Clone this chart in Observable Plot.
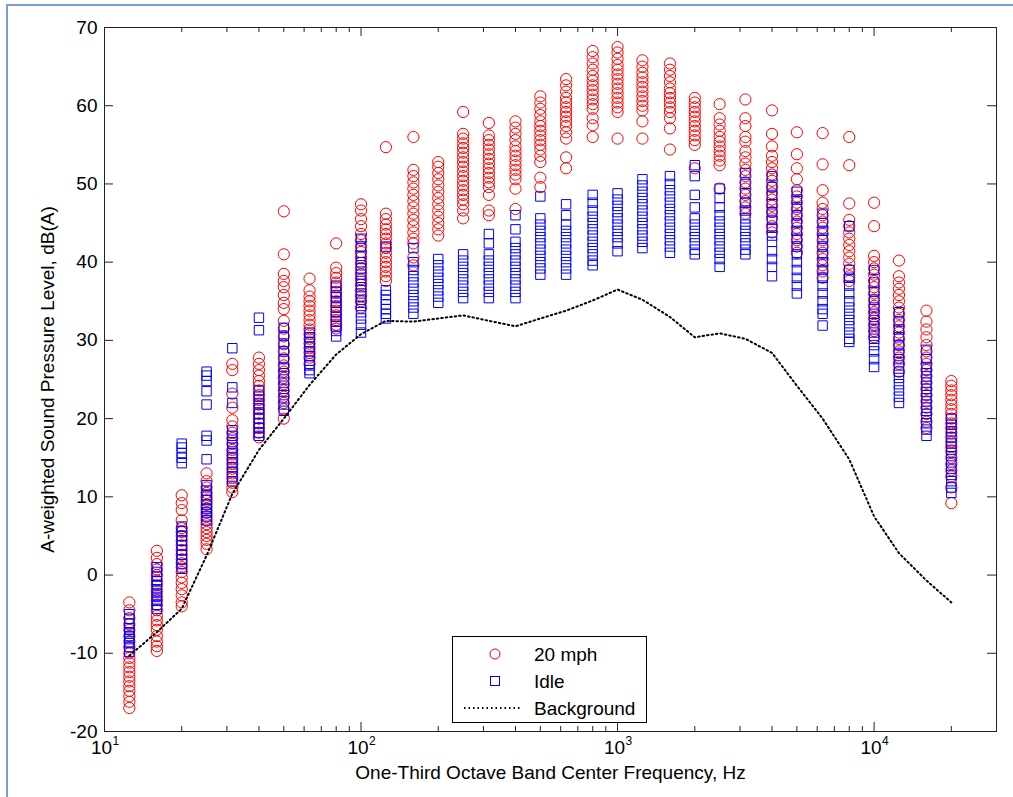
<!DOCTYPE html>
<html><head><meta charset="utf-8">
<script src="https://cdn.jsdelivr.net/npm/d3@7"></script>
<script src="https://cdn.jsdelivr.net/npm/@observablehq/plot@0.6"></script>
<style>
body{margin:0;background:#fff;font-family:"Liberation Sans",Arial,sans-serif;}
#wrap{position:relative;width:1013px;height:797px;overflow:hidden;background:#fff;}
#frame{position:absolute;left:6px;top:4px;width:1200px;height:1000px;border-left:2px solid #7a9fd4;border-top:2px solid #7a9fd4;}
#chart{position:absolute;left:0;top:0;}
#legend{position:absolute;left:452px;top:636px;width:193px;height:85px;border:1px solid #000;background:#fff;}
#legend svg{display:block;}
</style></head>
<body><div id="wrap"><div id="frame"></div><div id="chart"></div>
<div id="legend"><svg width="193" height="85" font-family="Liberation Sans, Arial, sans-serif" font-size="19">
<circle cx="42" cy="17" r="5" fill="none" stroke="#ff0000" stroke-width="1"/>
<text x="81" y="17" dominant-baseline="central">20 mph</text>
<rect x="37.5" y="39.5" width="9" height="9" fill="none" stroke="#0000ff" stroke-width="1"/>
<text x="81" y="44" dominant-baseline="central">Idle</text>
<line x1="11" x2="69" y1="71" y2="71" stroke="#000" stroke-width="2" stroke-dasharray="1.5,3"/>
<text x="81" y="71" dominant-baseline="central">Background</text>
</svg></div>
</div>
<script>
const bands = [12.5,16,20,25,31.5,40,50,63,80,100,125,160,200,250,315,400,500,630,800,1000,1250,1600,2000,2500,3150,4000,5000,6300,8000,10000,12500,16000,20000];

const mph20 = [
  [-3.5,-4.5,-5.5,-6.3,-7,-7.8,-8.5,-9.2,-10,-10.6,-11.2,-11.8,-12.4,-13,-13.6,-14.2,-14.8,-15.5,-16.2,-17],
  [3.1,2.2,1.4,0.7,0,-0.7,-1.3,-2,-2.6,-3.2,-3.8,-4.5,-5.2,-5.8,-6.4,-7,-7.8,-8.5,-9.1,-9.7],
  [10.2,9.2,8.3,7.0,6.0,5.5,5.0,4.4,3.8,3.2,2.6,2.0,1.5,1.0,0.4,-0.3,-1.0,-1.8,-2.6,-3.5,-4.0],
  [13.0,12.0,11.2,10.5,10,9.5,9.0,8.5,8.0,7.5,7.0,6.5,6.0,5.5,5.0,4.5,4.0,3.3],
  [27.0,26.2,23.2,21.4,19.8,19.0,18.2,17.5,16.8,16.0,15.4,14.8,14.2,13.6,13.0,12.4,11.8,11.2,10.6],
  [27.8,27.0,26.2,25.5,24.8,24.2,23.6,23.0,22.4,21.8,21.2,20.6,20.0,19.4,18.8,18.2,17.6],
  [46.5,41.0,38.5,37.6,36.8,35.8,34.8,34.0,32.5,31.5,30.5,29.5,28.6,27.7,26.8,26.0,25.2,24.4,23.6,22.8,22.0,21.2,20.0],
  [37.9,36.4,35.6,35.0,34.4,33.8,33.2,32.6,32.0,31.4,30.8,30.2,29.6,29.0,28.4,27.8,27.0],
  [42.4,39.3,38.6,38.0,37.4,36.8,36.2,35.6,35.0,34.4,33.8,33.2,32.6,32.0,31.5],
  [47.4,46.6,45.5,44.6,43.6,42.8,42.0,41.3,40.6,39.9,39.2,38.5,37.8,37.1,36.4,35.7,35.0,34.2],
  [54.7,46.2,45.5,44.8,44.2,43.6,43.0,42.4,41.8,41.2,40.6,40.0,39.4,38.8,38.2,37.6],
  [56.0,51.8,51.0,50.2,49.4,48.6,47.8,47.0,46.2,45.4,44.6,43.8,43.0,42.4,40.6,39.6],
  [52.8,52.2,51.4,50.6,49.8,49.0,48.2,47.4,46.6,45.8,45.0,44.2,43.4],
  [59.2,56.4,55.8,55.2,54.6,54.0,53.4,52.8,52.2,51.6,51.0,50.4,49.8,49.2,48.6,48.0,47.4,46.6,45.6],
  [57.8,56.2,55.6,55.0,54.4,53.8,53.2,52.6,52.0,51.4,50.8,50.2,49.6,48.6,46.6,46.0],
  [58.0,57.2,56.4,55.6,54.8,54.2,53.6,53.0,52.4,51.8,51.2,50.6,49.4,46.8],
  [61.2,60.4,59.6,58.8,58.0,57.4,56.8,56.2,55.6,55.0,54.4,53.6,52.8,50.8,49.6],
  [63.4,62.6,61.8,61.0,60.4,59.8,59.2,58.6,58.0,57.4,56.6,55.8,53.4,52.0],
  [67.0,66.2,65.4,64.6,63.8,63.2,62.6,62.0,61.4,60.8,60.2,59.6,58.4,57.5,56.0],
  [67.5,66.8,66.0,65.2,64.6,64.0,63.4,62.8,62.2,61.6,61.0,60.4,59.8,59.2,55.8],
  [65.8,65.0,64.2,63.6,63.0,62.4,61.8,61.2,60.6,60.0,59.4,58.0,55.8],
  [65.4,64.6,63.8,63.0,62.2,61.6,61.0,60.4,59.8,59.2,58.4,57.1,54.4],
  [61.0,60.4,59.8,59.2,58.6,58.0,57.4,56.8,56.2,55.6,55.0,52.0],
  [60.2,58.4,57.6,56.8,56.0,55.4,54.8,54.2,53.6,53.0,52.4,49.4],
  [60.8,58.4,57.4,56.0,55.4,54.2,53.4,52.6,51.8,51.0,50.2,49.4,48.6,47.8,47.0,46.2],
  [59.4,56.4,54.8,53.6,52.8,52.0,51.2,50.4,49.6,48.8,48.0,47.2,46.4,45.6,44.6,43.8],
  [56.6,53.8,52.0,50.6,49.2,48.4,47.6,46.8,46.0,45.2,44.4,43.6,42.8,42.0,41.2],
  [56.5,52.5,49.2,47.6,46.8,46.0,45.2,44.4,43.6,42.8,42.0,41.2,40.4,39.6,38.8,38.0],
  [56.0,52.4,47.5,45.4,44.6,43.8,43.0,42.2,41.4,40.6,39.8,39.0,38.2,37.6],
  [47.6,44.6,40.8,40.0,39.2,38.4,37.6,36.8,36.0,35.2,34.4,33.6,32.8,32.0,31.2,30.4],
  [40.2,38.2,37.4,36.6,35.8,35.0,34.2,33.4,32.6,31.8,31.0,30.2,29.4,28.6,27.8,27.0,26.0],
  [33.8,32.4,31.4,30.4,29.4,28.6,27.8,27.0,26.2,25.4,24.6,23.8,23.0,22.2,21.4,20.6,19.6,18.8],
  [24.8,24.2,23.6,23.0,22.4,21.8,21.2,20.6,20.0,19.4,18.8,18.2,17.6,17.0,16.4,15.8,15.0,14.2,13.4,12.6,11.2,9.2]
];

const idle = [
  [-5,-5.6,-6.2,-6.8,-7.3,-7.8,-8.2,-8.7,-9.2,-9.8],
  [1.0,0.4,-0.2,-0.8,-1.3,-1.8,-2.3,-2.8,-3.3,-3.8,-4.3],
  [16.8,16.3,15.6,15.0,14.3,6.2,5.6,5.0,4.4,3.8,3.2,2.6,2.0,1.4,0.8],
  [26.0,25.5,24.8,23.5,21.8,17.8,17.2,14.8,11.5,10.8,10.2,9.6,9.0,8.5,8.0,7.5,7.0],
  [29.0,24.0,22.0,18.5,17.8,17.0,16.3,15.6,15.0,14.4,13.8,13.2,12.6,12.0],
  [32.9,31.3,23.6,22.8,22.0,21.3,20.6,20.0,19.4,18.8,18.2,17.8],
  [31.6,30.6,29.6,28.6,27.6,26.6,25.8,25.0,24.2,23.4,22.6,21.8,21.0],
  [31.0,30.4,29.8,29.2,28.6,28.0,27.4,26.8,26.2,25.8],
  [37.0,36.2,35.5,34.8,34.2,33.6,33.0,32.4,31.8,31.2,30.5],
  [43.0,42.0,40.8,40.0,39.2,38.4,37.6,36.8,36.0,35.2,34.4,33.6,32.8,32.0,31.0],
  [42.0,36.4,35.8,35.2,34.6,34.0,33.4,32.8],
  [41.8,40.0,39.0,38.2,37.4,36.6,35.8,35.0,34.2,33.4],
  [40.4,39.6,38.8,38.0,37.2,36.4,35.6,34.8],
  [41.0,40.2,39.4,38.6,37.8,37.0,36.2,35.4],
  [43.6,42.4,41.0,40.2,39.4,38.6,37.8,37.0,36.2,35.4],
  [46.0,44.2,42.6,41.8,41.0,40.2,39.4,38.6,37.8,37.0,36.2,35.4],
  [48.4,45.6,44.8,44.0,43.2,42.4,41.6,40.8,40.0,39.2,38.4],
  [47.4,46.0,44.8,44.0,43.2,42.4,41.6,40.8,40.0,39.2,38.4],
  [48.6,47.6,46.6,45.8,45.0,44.2,43.4,42.6,41.8,41.0,40.2,39.6],
  [48.8,48.0,47.2,46.4,45.6,44.8,44.0,43.2,42.4,41.4],
  [50.6,49.8,49.0,48.2,47.4,46.6,45.8,45.0,44.2,43.4,42.6,41.8],
  [51.0,50.0,49.2,48.4,47.6,46.8,46.0,45.2,44.4,43.6,42.8,42.0,41.2],
  [52.4,51.0,48.6,47.0,45.6,44.8,44.0,43.2,42.4,41.6,41.0],
  [49.4,48.2,47.0,46.0,45.2,44.4,43.6,42.8,42.0,41.2,40.4,39.4],
  [51.4,50.0,48.8,47.6,46.6,45.6,44.8,44.0,43.2,42.4,41.6,41.0],
  [51.0,49.6,48.6,47.4,46.4,45.4,44.4,43.4,42.6,41.4,40.4,39.4,38.2],
  [49.0,48.0,47.0,46.0,45.0,44.0,43.0,42.0,41.0,40.0,39.0,38.0,37.0,36.0],
  [46.2,45.0,44.0,43.0,42.0,41.0,40.0,39.0,38.0,37.0,36.0,35.0,34.0,33.4,31.9],
  [44.6,39.0,38.0,37.0,36.0,35.0,34.2,33.4,32.6,31.8,31.0,30.2,29.8],
  [39.0,37.4,36.2,35.2,34.2,33.4,32.6,31.8,31.0,30.2,29.4,28.6,27.6,26.6],
  [33.6,32.4,31.4,30.4,29.4,28.4,27.6,26.8,26.0,25.2,24.4,23.6,22.8,22.0],
  [28.8,27.6,26.6,25.8,25.0,24.2,23.4,22.6,21.8,21.0,20.2,19.4,18.6,17.8],
  [20.0,19.2,18.4,17.6,16.8,16.0,15.2,14.4,13.6,12.8,12.0,11.2,10.5]
];

const background = [-10.3,-7.3,-4.3,2.5,10.4,16.0,20.0,24.3,28.2,30.8,32.5,32.4,32.8,33.2,32.5,31.8,32.8,33.8,35.1,36.5,35.2,33.0,30.4,30.9,30.2,28.4,24.2,20.0,14.8,7.5,2.8,-0.7,-3.5];

const yTicks = [-20,-10,0,10,20,30,40,50,60,70];
const xDecades = [10,100,1000,10000];
const xDecadeExp = ["1","2","3","4"];
const xMinor = [20,30,40,50,60,70,80,90,200,300,400,500,600,700,800,900,2000,3000,4000,5000,6000,7000,8000,9000,20000];
const xLabel = "One-Third Octave Band Center Frequency, Hz";
const yLabel = "A-weighted Sound Pressure Level, dB(A)";

const rows20 = bands.flatMap((f, i) => mph20[i].map(v => ({f, v})));
const rowsIdle = bands.flatMap((f, i) => idle[i].map(v => ({f, v})));
const rowsBg = bands.map((f, i) => ({f, v: background[i]}));

const W = 1013, H = 797, mL = 104, mR = 17, mT = 27, mB = 66;
const pw = W - mL - mR, ph = H - mT - mB;
const major = 9, minor = 5;

const chart = Plot.plot({
  width: W, height: H,
  marginLeft: mL, marginRight: mR, marginTop: mT, marginBottom: mB,
  style: {fontFamily: "Liberation Sans, Arial, sans-serif", fontSize: "19px", background: "transparent", color: "#000"},
  x: {type: "log", domain: [10, 30000], axis: null},
  y: {domain: [-20, 70], axis: null},
  marks: [
    Plot.dot(rows20, {x: "f", y: "v", r: 5.6, symbol: "circle", fill: "none", stroke: "#ff0000", strokeWidth: 1}),
    Plot.dot(rowsIdle, {x: "f", y: "v", r: 5.3, symbol: "square", fill: "none", stroke: "#0000ff", strokeWidth: 1}),
    Plot.line(rowsBg, {x: "f", y: "v", stroke: "#000", strokeWidth: 2, strokeDasharray: "1.5,3"}),
    Plot.frame({stroke: "#222", strokeWidth: 1}),
    Plot.ruleX(xDecades, {x: d => d, insetTop: ph - major, stroke: "#222"}),
    Plot.ruleX(xDecades, {x: d => d, insetBottom: ph - major, stroke: "#222"}),
    Plot.ruleX(xMinor, {x: d => d, insetTop: ph - minor, stroke: "#222"}),
    Plot.ruleX(xMinor, {x: d => d, insetBottom: ph - minor, stroke: "#222"}),
    Plot.ruleY(yTicks, {y: d => d, insetRight: pw - major, stroke: "#222"}),
    Plot.ruleY(yTicks, {y: d => d, insetLeft: pw - major, stroke: "#222"}),
    Plot.text(yTicks, {y: d => d, text: d => String(d), frameAnchor: "left", dx: -7, textAnchor: "end", fontSize: 19}),
    Plot.text(xDecades, {x: d => d, text: () => "10", frameAnchor: "bottom", dy: 22, dx: -3, fontSize: 19}),
    Plot.text(xDecades, {x: d => d, text: (d, i) => xDecadeExp[i], frameAnchor: "bottom", dy: 13, dx: 8, textAnchor: "start", fontSize: 12}),
    Plot.text([xLabel], {frameAnchor: "bottom", dy: 47, fontSize: 19}),
    Plot.text([yLabel], {frameAnchor: "left", dx: -57, rotate: -90, textAnchor: "middle", fontSize: 19})
  ]
});
document.getElementById("chart").appendChild(chart);
</script>
</body></html>
